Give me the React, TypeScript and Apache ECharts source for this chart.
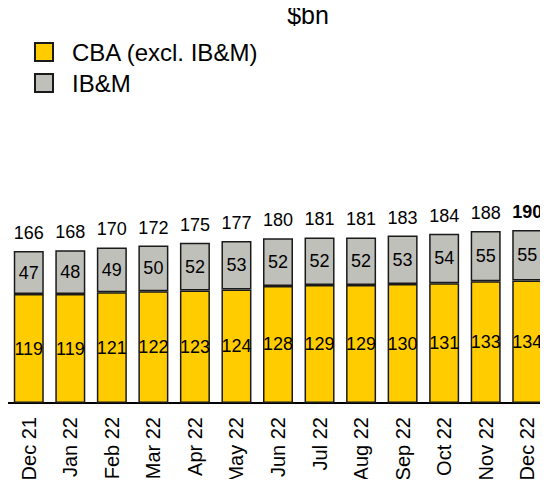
import React, { useEffect, useRef } from "react";
import * as echarts from "echarts";

const categories = ["Dec 21", "Jan 22", "Feb 22", "Mar 22", "Apr 22", "May 22", "Jun 22", "Jul 22", "Aug 22", "Sep 22", "Oct 22", "Nov 22", "Dec 22"];
const cbaValues = [119, 119, 121, 122, 123, 124, 128, 129, 129, 130, 131, 133, 134];
const ibmValues = [47, 48, 49, 50, 52, 53, 52, 52, 52, 53, 54, 55, 55];
const totals = [166, 168, 170, 172, 175, 177, 180, 181, 181, 183, 184, 188, 190];

const FONT = "Liberation Sans, Arial, sans-serif";

export default function App() {
  const ref = useRef<HTMLDivElement>(null);
  useEffect(() => {
    if (!ref.current) return;
    const chart = echarts.init(ref.current, null, { renderer: "svg" });
    chart.setOption({
      animation: false,
      title: {
        text: "$bn",
        left: 308,
        top: 2,
        padding: 0,
        textAlign: "center",
        textStyle: { fontFamily: FONT, fontSize: 25, fontWeight: "normal", color: "#000" },
      },
      legend: {
        orient: "vertical",
        left: 29,
        top: 35,
        itemWidth: 18,
        itemHeight: 18,
        itemGap: 7,
        icon: "rect",
        data: ["CBA (excl. IB&M)", "IB&M"],
        textStyle: { fontFamily: FONT, fontSize: 24, lineHeight: 24, color: "#000", padding: [0, 0, 0, 14] },
      },
      grid: { left: 8, top: 220, width: 546, height: 183, containLabel: false },
      xAxis: {
        type: "category",
        data: categories,
        axisLine: { show: true, lineStyle: { color: "#000", width: 2 } },
        axisTick: { show: false },
        axisLabel: { rotate: 90, margin: 14, fontFamily: FONT, fontSize: 20, color: "#000", interval: 0 },
      },
      yAxis: {
        type: "value",
        min: 0,
        max: 200,
        show: false,
        splitLine: { show: false },
      },
      series: [
        {
          name: "CBA (excl. IB&M)",
          type: "bar",
          stack: "t",
          barWidth: 30,
          data: cbaValues,
          itemStyle: { color: "#FFCC00", borderColor: "#1a1a1a", borderWidth: 1.5 },
          label: { show: true, position: "inside", fontFamily: FONT, fontSize: 18, color: "#000" },
        },
        {
          name: "IB&M",
          type: "bar",
          stack: "t",
          barWidth: 30,
          data: ibmValues,
          itemStyle: { color: "#C0C0BB", borderColor: "#1a1a1a", borderWidth: 1.5 },
          label: { show: true, position: "inside", fontFamily: FONT, fontSize: 18, color: "#000" },
        },
        {
          name: "total",
          type: "bar",
          stack: "t",
          barWidth: 30,
          data: totals.map((_, i) =>
            i === totals.length - 1 ? { value: 0, label: { fontWeight: "bold" } } : 0
          ),
          itemStyle: { color: "transparent", borderWidth: 0 },
          label: {
            show: true,
            position: "top",
            distance: 9,
            fontFamily: FONT,
            fontSize: 18,
            color: "#000",
            formatter: (p: any) => String(totals[p.dataIndex]),
          },
          silent: true,
        },
      ],
    });
    return () => chart.dispose();
  }, []);
  return <div ref={ref} style={{ width: 548, height: 487, margin: -8 }} />;
}
